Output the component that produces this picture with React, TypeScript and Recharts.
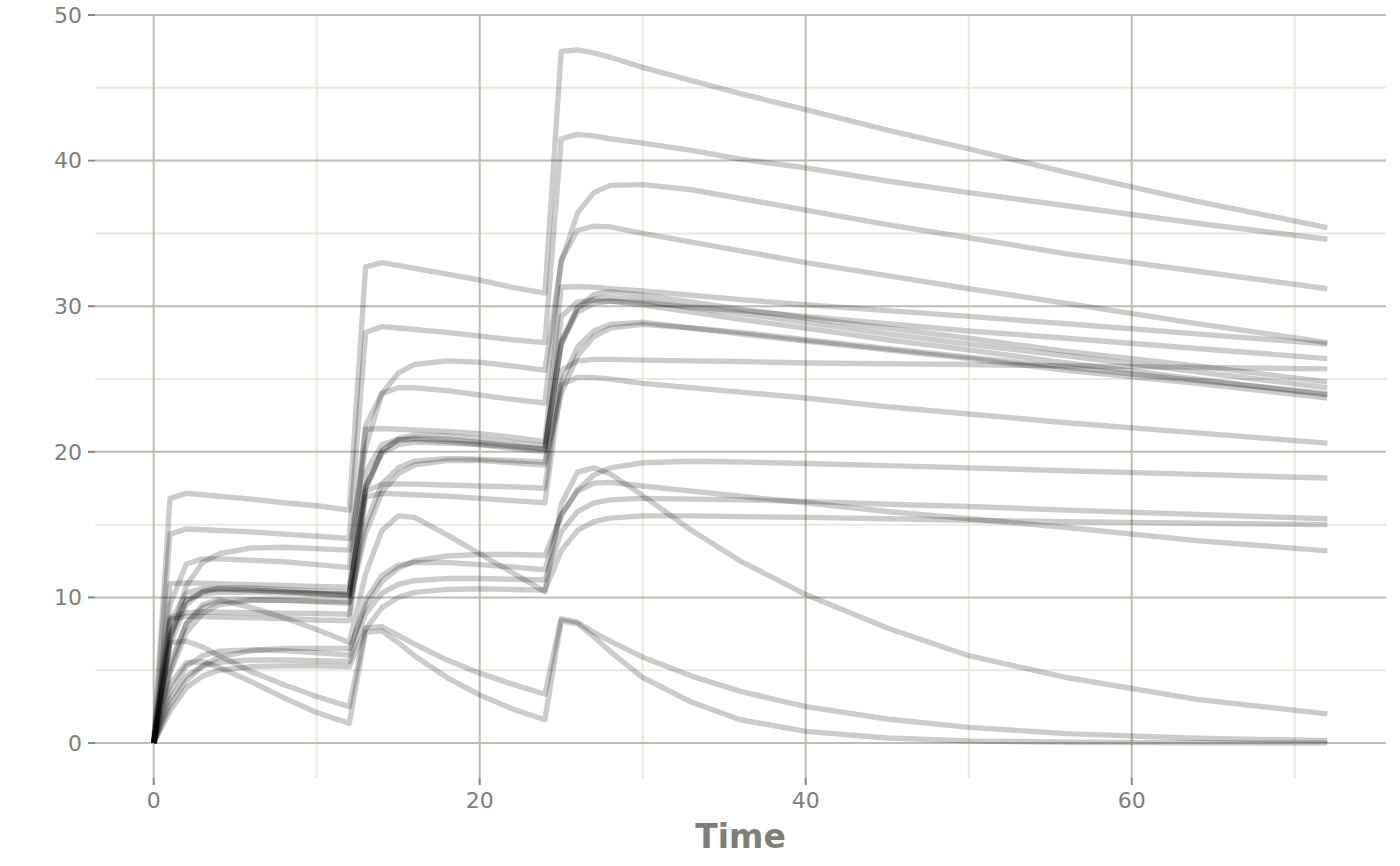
import React from "react";
import { LineChart, Line, XAxis, YAxis, CartesianGrid } from "recharts";

const times = [0, 1, 2, 3, 4, 6, 8, 10, 12, 13, 14, 15, 16, 18, 20, 22, 24, 25, 26, 27, 28, 30, 33, 36, 40, 45, 50, 56, 64, 72];

const subjA = [0, 16.8, 17.15, 17.05, 16.95, 16.75, 16.5, 16.3, 16.0, 32.7, 33.0, 32.8, 32.6, 32.2, 31.8, 31.3, 30.9, 47.5, 47.6, 47.4, 47.1, 46.4, 45.5, 44.6, 43.5, 42.1, 40.8, 39.2, 37.2, 35.4];
const subjB = [0, 14.35, 14.7, 14.65, 14.6, 14.5, 14.35, 14.2, 14.05, 28.2, 28.6, 28.5, 28.4, 28.2, 27.95, 27.7, 27.5, 41.5, 41.8, 41.7, 41.5, 41.2, 40.7, 40.1, 39.5, 38.6, 37.8, 36.9, 35.7, 34.6];
const subjC = [0, 7.0, 10.8, 12.4, 13.0, 13.4, 13.45, 13.35, 13.25, 20.3, 24.0, 25.4, 26.0, 26.25, 26.15, 25.9, 25.6, 33.0, 36.4, 37.8, 38.3, 38.35, 38.0, 37.4, 36.6, 35.6, 34.7, 33.6, 32.4, 31.2];
const subjD = [0, 9.5, 12.3, 12.65, 12.65, 12.55, 12.45, 12.25, 12.05, 21.8, 24.0, 24.4, 24.4, 24.2, 23.9, 23.6, 23.35, 33.2, 35.2, 35.5, 35.45, 35.0, 34.4, 33.8, 33.0, 32.1, 31.2, 30.2, 28.8, 27.5];
const subjE = [0, 10.95, 11.0, 10.97, 10.94, 10.88, 10.82, 10.76, 10.7, 21.55, 21.6, 21.55, 21.5, 21.4, 21.25, 21.0, 20.7, 31.3, 31.35, 31.3, 31.2, 31.05, 30.75, 30.45, 30.1, 29.7, 29.3, 28.8, 28.1, 27.4];
const subjI = [0, 8.6, 8.95, 9.0, 8.98, 8.95, 8.92, 8.9, 8.85, 17.3, 17.75, 17.8, 17.78, 17.72, 17.65, 17.6, 17.5, 25.6, 26.25, 26.35, 26.35, 26.3, 26.25, 26.2, 26.1, 26.05, 26.0, 25.9, 25.8, 25.7];
const subjQ = [0, 8.5, 8.7, 8.68, 8.65, 8.6, 8.55, 8.45, 8.4, 16.9, 17.15, 17.1, 17.05, 16.95, 16.8, 16.65, 16.5, 24.6, 25.1, 25.1, 25.0, 24.7, 24.4, 24.1, 23.7, 23.1, 22.6, 22.0, 21.3, 20.6];
const subjR = [0, 6.8, 9.5, 10.4, 10.65, 10.65, 10.55, 10.45, 10.35, 17.4, 20.0, 20.9, 21.15, 21.1, 20.9, 20.65, 20.4, 27.3, 29.9, 30.8, 31.0, 30.75, 30.3, 29.8, 29.2, 28.5, 27.8, 26.9, 25.9, 24.8];
const subjS = [0, 7.3, 9.8, 10.4, 10.55, 10.5, 10.4, 10.3, 10.2, 17.6, 20.1, 20.8, 20.95, 20.85, 20.65, 20.4, 20.15, 27.6, 29.9, 30.5, 30.6, 30.4, 29.9, 29.5, 28.9, 28.1, 27.4, 26.6, 25.5, 24.4];
const subjT = [0, 7.5, 9.8, 10.25, 10.35, 10.35, 10.3, 10.25, 10.2, 17.6, 19.9, 20.5, 20.65, 20.6, 20.5, 20.35, 20.2, 27.5, 29.6, 30.2, 30.35, 30.25, 29.95, 29.7, 29.3, 28.8, 28.3, 27.8, 27.1, 26.4];
const subjU = [0, 5.5, 8.2, 9.3, 9.7, 9.85, 9.8, 9.75, 9.7, 15.0, 17.8, 18.9, 19.35, 19.55, 19.5, 19.4, 19.3, 24.7, 27.2, 28.3, 28.75, 28.9, 28.5, 28.2, 27.7, 27.1, 26.5, 25.8, 24.9, 24.0];
const subjV = [0, 4.8, 7.6, 8.9, 9.5, 9.8, 9.8, 9.7, 9.6, 14.4, 17.2, 18.5, 19.1, 19.4, 19.4, 19.25, 19.1, 24.0, 26.6, 27.9, 28.5, 28.75, 28.5, 28.1, 27.6, 27.0, 26.4, 25.6, 24.7, 23.7];
const subjW = [0, 8.3, 10.3, 10.6, 10.6, 10.5, 10.4, 10.25, 10.1, 18.6, 20.5, 20.85, 20.85, 20.7, 20.5, 20.25, 20.0, 29.3, 30.3, 30.4, 30.35, 30.1, 29.6, 29.1, 28.5, 27.7, 27.0, 26.1, 25.0, 23.9];
const subjJ = [0, 5.0, 8.2, 9.5, 9.85, 9.3, 8.6, 7.8, 6.9, 11.6, 14.6, 15.6, 15.5, 14.3, 13.0, 11.7, 10.4, 16.4, 18.6, 18.9, 18.5, 17.0, 14.6, 12.5, 10.2, 7.9, 6.0, 4.5, 3.0, 2.0];
const subjK = [0, 6.9, 7.0, 6.6, 6.0, 4.9, 4.0, 3.2, 2.5, 7.9, 8.0, 7.4, 6.8, 5.7, 4.8, 4.05, 3.35, 8.55, 8.3, 7.6, 7.0, 5.9, 4.6, 3.55, 2.5, 1.65, 1.08, 0.65, 0.33, 0.17];
const subjL = [0, 4.0, 5.5, 5.6, 5.2, 4.2, 3.1, 2.1, 1.35, 7.6, 7.7, 6.9, 6.0, 4.5, 3.3, 2.35, 1.6, 8.4, 8.2, 7.3, 6.3, 4.5, 2.8, 1.6, 0.8, 0.35, 0.15, 0.06, 0.02, 0.0];
const subjP = [0, 2.6, 4.3, 5.3, 5.9, 6.35, 6.5, 6.5, 6.5, 9.4, 11.1, 12.0, 12.5, 12.85, 12.95, 12.95, 12.9, 15.6, 17.4, 18.4, 18.9, 19.25, 19.35, 19.3, 19.2, 19.05, 18.9, 18.7, 18.45, 18.2];
const subjM = [0, 3.5, 5.3, 6.0, 6.3, 6.4, 6.35, 6.2, 6.05, 9.8, 11.5, 12.2, 12.4, 12.4, 12.25, 12.1, 11.9, 15.7, 17.3, 17.85, 17.9, 17.65, 17.3, 16.95, 16.5, 15.9, 15.4, 14.8, 13.9, 13.2];
const subjN = [0, 3.0, 4.6, 5.3, 5.55, 5.7, 5.7, 5.65, 5.6, 8.9, 10.3, 10.9, 11.15, 11.3, 11.3, 11.25, 11.2, 14.5, 15.9, 16.5, 16.7, 16.8, 16.75, 16.7, 16.6, 16.4, 16.25, 16.0, 15.7, 15.4];
const subjO = [0, 2.2, 3.8, 4.6, 5.0, 5.25, 5.3, 5.3, 5.25, 7.8, 9.3, 10.0, 10.35, 10.55, 10.6, 10.55, 10.5, 13.2, 14.6, 15.2, 15.45, 15.6, 15.6, 15.55, 15.5, 15.4, 15.3, 15.2, 15.1, 15.0];

const subjects: Record<string, number[]> = {
  s1: subjA, s2: subjB, s3: subjC, s4: subjD, s5: subjE,
  s6: subjI, s7: subjQ, s8: subjR, s9: subjS, s10: subjT,
  s11: subjU, s12: subjV, s13: subjW, s14: subjJ, s15: subjK,
  s16: subjL, s17: subjP, s18: subjM, s19: subjN, s20: subjO,
};

const xTicks = [0, 20, 40, 60];
const xMinor = [10, 30, 50, 70];
const yTicks = [0, 10, 20, 30, 40, 50];
const yMinor = [5, 15, 25, 35, 45];

const data = times.map((t, i) => {
  const row: Record<string, number> = { t };
  Object.keys(subjects).forEach((k) => {
    row[k] = subjects[k][i];
  });
  return row;
});

const FONT = "DejaVu Sans";
const tickStyle = { fontSize: 22, fill: "#7f7f77", fontFamily: FONT };

export default function App() {
  return (
    <div style={{ position: "absolute", left: 0, top: 0, background: "#fff" }}>
      <LineChart width={1400} height={866} data={data} margin={{ top: 15, right: 14, bottom: 0, left: 0 }}>
        <CartesianGrid
          stroke="#e9e9dc"
          strokeWidth={2}
          horizontalValues={yMinor}
          verticalValues={xMinor}
        />
        <CartesianGrid
          stroke="#bdbdb0"
          strokeWidth={2}
          horizontalValues={yTicks}
          verticalValues={xTicks}
        />
        <XAxis
          dataKey="t"
          type="number"
          domain={[-3.6, 75.6]}
          ticks={xTicks}
          allowDataOverflow
          axisLine={false}
          tickLine={{ stroke: "#858585", strokeWidth: 2 }}
          tickSize={7}
          tickMargin={7}
          height={88}
          tick={tickStyle}
          label={{
            value: "Time",
            position: "insideBottom",
            offset: 18,
            style: { fontSize: 33, fontWeight: "bold", fill: "#7f7f77", fontFamily: FONT },
          }}
        />
        <YAxis
          type="number"
          domain={[-2.4, 50]}
          ticks={yTicks}
          allowDataOverflow
          axisLine={false}
          tickLine={{ stroke: "#858585", strokeWidth: 2 }}
          tickSize={7}
          tickMargin={6}
          width={95}
          tick={tickStyle}
        />
        {Object.keys(subjects).map((k) => (
          <Line
            key={k}
            dataKey={k}
            type="linear"
            stroke="#000000"
            strokeOpacity={0.2}
            strokeWidth={5.4}
            strokeLinejoin="round"
            dot={false}
            activeDot={false}
            isAnimationActive={false}
          />
        ))}
      </LineChart>
    </div>
  );
}
